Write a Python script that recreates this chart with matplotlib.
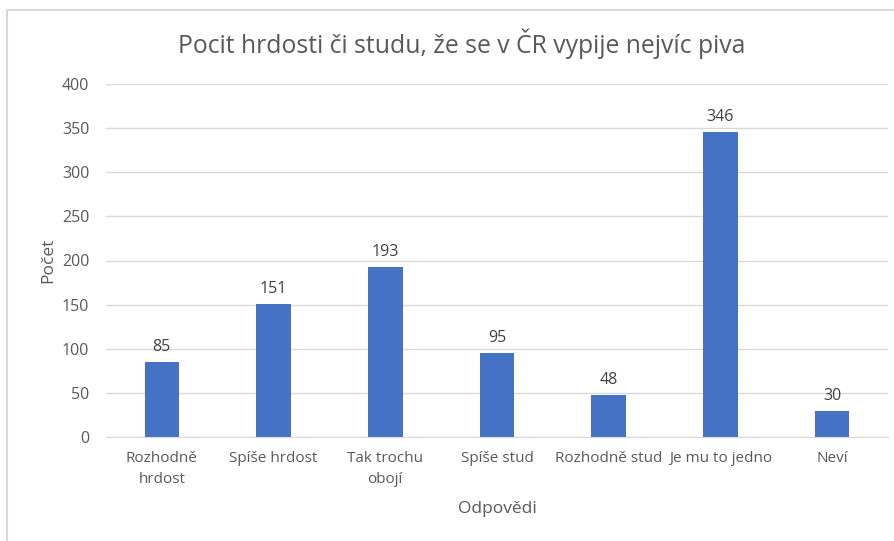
import matplotlib
matplotlib.use("Agg")
import matplotlib.pyplot as plt
from matplotlib.patches import Rectangle

categories = ["Rozhodně\nhrdost", "Spíše hrdost", "Tak trochu\nobojí", "Spíše stud",
              "Rozhodně stud", "Je mu to jedno", "Neví"]
values = [85, 151, 193, 95, 48, 346, 30]
yticks = [0, 50, 100, 150, 200, 250, 300, 350, 400]

plt.rcParams['font.family'] = ['Open Sans', 'DejaVu Sans']
TXT = "#595959"

fig = plt.figure(figsize=(8.95, 5.41), dpi=100)
fig.patch.set_facecolor("white")
ax = fig.add_axes([106/895, 104/541, (888-106)/895, (437-84)/541])

x = list(range(len(values)))
ax.bar(x, values, width=0.31, color="#4472C4", zorder=3)
for xi, v in zip(x, values):
    ax.annotate(str(v), (xi, v), xytext=(0, 5), textcoords="offset points",
                ha="center", va="bottom", fontsize=11.5, color="#404040")

ax.set_xlim(-0.5, len(values) - 0.5)
ax.set_ylim(0, 400)
ax.set_yticks(yticks)
ax.set_yticklabels([str(t) for t in yticks])
ax.set_xticks(x)
ax.set_xticklabels(categories, fontsize=11, color=TXT, linespacing=1.55)
ax.tick_params(axis="y", length=0, pad=12, labelsize=11.5, labelcolor=TXT)
ax.tick_params(axis="x", length=0, pad=10)
ax.grid(axis="y", color="#d9d9d9", linewidth=1, zorder=0)
for s in ["top", "right", "left"]:
    ax.spines[s].set_visible(False)
ax.spines["bottom"].set_color("#d9d9d9")
ax.spines["bottom"].set_zorder(4)

ax.set_xlabel("Odpovědi", fontsize=12.5, color=TXT, labelpad=10)
ax.set_ylabel("Počet", fontsize=12.5, color=TXT, labelpad=4)
fig.text(462/895, 1 - 44/541, "Pocit hrdosti či studu, že se v ČR vypije nejvíc piva",
         ha="center", va="center", fontsize=17.8, color=TXT)

fig.patches.append(Rectangle((7/895, -0.05), 1.0, 1.05 - 10/541, transform=fig.transFigure,
                             fill=False, edgecolor="#d9d9d9", linewidth=1.5))

fig.savefig("out.png", dpi=100, facecolor="white")
